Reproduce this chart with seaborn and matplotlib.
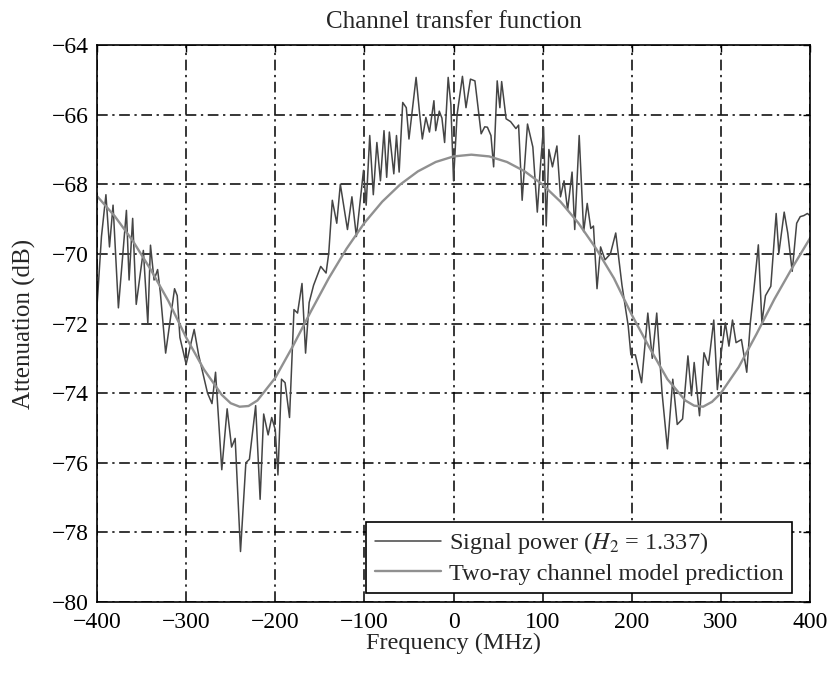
import numpy as np
import pandas as pd
import matplotlib
matplotlib.use("Agg")
import matplotlib.pyplot as plt
import seaborn as sns

# Measured signal power across the band (MHz, dB)
sig_freq = [
    -400, -395, -390, -386, -382, -376, -367, -364, -360, -356, -348, -343,
    -340, -336, -332, -329, -323, -313, -310, -307, -300, -291, -286, -276,
    -271, -267, -260, -254, -249, -245, -239, -233, -229, -222, -217, -213,
    -208, -204, -200, -197, -193, -189, -184, -179, -175, -170, -166, -162,
    -157, -149, -143, -140, -136, -131, -127, -119, -114, -109, -105, -101,
    -98, -94, -90, -86, -82, -78, -75, -72, -67, -64, -61, -57,
    -53, -50, -42, -38, -35, -31, -27, -22, -20, -16, -13, -10,
    -6, -3, 0, 4, 10, 14, 19, 24, 31, 35, 38, 42,
    45, 49, 52, 54, 59, 64, 70, 73, 77, 83, 89, 94,
    98, 101, 104, 107, 111, 116, 120, 124, 128, 133, 136, 141,
    146, 150, 154, 157, 161, 165, 170, 176, 182, 189, 196, 199,
    204, 211, 218, 223, 228, 234, 240, 246, 251, 257, 263, 267,
    270, 276, 281, 286, 292, 296, 300, 305, 309, 313, 317, 323,
    329, 333, 337, 342, 346, 350, 356, 362, 365, 371, 375, 380,
    385, 389, 393, 397, 400,
]
sig_db = [
    -71.50, -69.50, -68.30, -69.80, -68.60, -71.55, -68.75, -70.75, -68.98, -71.45, -69.90, -72.00,
    -69.75, -70.75, -70.45, -71.10, -72.85, -71.00, -71.20, -72.40, -73.17, -72.17, -72.90, -74.00,
    -74.30, -73.40, -76.20, -74.45, -75.55, -75.30, -78.55, -76.00, -75.90, -74.36, -77.05, -74.60,
    -75.20, -74.70, -75.05, -76.35, -73.60, -73.70, -74.70, -71.60, -71.70, -70.85, -72.85, -71.40,
    -70.90, -70.36, -70.55, -69.98, -68.46, -69.12, -68.00, -69.30, -68.36, -69.50, -68.55, -67.60,
    -68.60, -66.60, -68.30, -66.80, -67.90, -66.46, -67.80, -66.50, -67.70, -66.60, -67.65, -65.65,
    -65.80, -66.70, -64.93, -65.98, -66.70, -66.08, -66.50, -65.60, -66.46, -65.90, -66.10, -66.80,
    -64.93, -65.70, -67.90, -66.00, -64.90, -65.80, -64.98, -65.03, -66.55, -66.35, -66.36, -66.60,
    -67.50, -65.03, -65.80, -65.05, -66.12, -66.20, -66.40, -66.30, -68.46, -66.27, -66.93, -68.80,
    -67.30, -66.36, -69.20, -67.00, -67.50, -66.90, -68.36, -67.90, -68.74, -67.65, -69.30, -66.60,
    -69.36, -68.55, -69.27, -69.20, -71.00, -69.80, -70.17, -70.00, -69.40, -70.90, -72.07, -72.90,
    -72.90, -73.70, -71.70, -73.00, -71.70, -74.00, -75.60, -73.60, -74.90, -74.74, -72.93, -74.07,
    -73.12, -74.65, -72.84, -73.20, -71.90, -73.90, -72.90, -71.98, -72.65, -71.90, -72.55, -72.46,
    -73.40, -71.98, -71.03, -69.74, -71.98, -71.20, -70.93, -68.84, -69.98, -68.80, -69.40, -70.50,
    -69.12, -68.93, -68.90, -68.84, -68.90,
]

# Two-ray channel model prediction (MHz, dB)
model_freq = [
    -400, -380, -360, -340, -320, -300, -280, -260, -250, -240, -230, -220,
    -200, -180, -160, -140, -120, -100, -80, -60, -40, -20,
    0, 20, 40, 60, 80, 100, 120, 140, 160, 180,
    200, 220, 240, 260, 270, 280, 290, 300, 320, 340, 360, 380, 400,
]
model_db = [
    -68.34, -68.92, -69.62, -70.44, -71.35, -72.40, -73.32, -74.05, -74.29, -74.39, -74.37, -74.21,
    -73.56, -72.64, -71.65, -70.70, -69.85, -69.11, -68.50, -68.01, -67.63, -67.36,
    -67.20, -67.15, -67.20, -67.36, -67.63, -68.01, -68.50, -69.11, -69.85, -70.70,
    -71.75, -72.70, -73.60, -74.21, -74.36, -74.39, -74.25, -74.00, -73.25, -72.30, -71.30, -70.40,
    -69.55,
]

x_ticks = [-400, -300, -200, -100, 0, 100, 200, 300, 400]
y_ticks = [-80, -78, -76, -74, -72, -70, -68, -66, -64]

sig_label = "Signal power ($H_2$ = 1.337)"
model_label = "Two-ray channel model prediction"

df = pd.concat([
    pd.DataFrame({"freq": sig_freq, "db": sig_db, "series": sig_label}),
    pd.DataFrame({"freq": model_freq, "db": model_db, "series": model_label}),
], ignore_index=True)

sns.set_theme(style="white")
plt.rcParams["font.family"] = ["Liberation Serif", "DejaVu Serif"]
plt.rcParams["mathtext.fontset"] = "stix"
plt.rcParams["axes.unicode_minus"] = True

fig = plt.figure(figsize=(8.32, 6.73), dpi=100)
ax = fig.add_axes([0.1166, 0.1055, 0.8570, 0.8276])

sns.lineplot(
    data=df, x="freq", y="db", hue="series", style="series",
    hue_order=[sig_label, model_label],
    palette={sig_label: "#454545", model_label: "#909090"},
    dashes=False, sort=False, estimator=None, ax=ax,
)
lw = {sig_label: 1.1, model_label: 1.7}
for line, name in zip(ax.get_lines(), [sig_label, model_label]):
    line.set_linewidth(lw[name])

ax.set_xlim(-400, 400)
ax.set_ylim(-80, -64)
ax.set_xticks(x_ticks)
ax.set_yticks(y_ticks)
ax.grid(True, color="black", linestyle=(0, (7, 3, 1.5, 3)), linewidth=1.1)
ax.set_axisbelow(True)
for s in ax.spines.values():
    s.set_color("black")
    s.set_linewidth(1.2)
ax.tick_params(direction="in", length=5, width=1, colors="black",
               labelsize=17, top=True, right=True)
ax.tick_params(axis="x", pad=7)
ax.tick_params(axis="y", pad=6)

ax.set_title("Channel transfer function", fontsize=18, pad=12)
ax.set_xlabel("Frequency (MHz)", fontsize=17.5, labelpad=0)
ax.set_ylabel("Attenuation (dB)", fontsize=18, labelpad=11)

handles, labels = ax.get_legend_handles_labels()
leg = ax.legend(handles, labels, loc="lower right", fontsize=17.5,
                frameon=True, fancybox=False, edgecolor="black",
                framealpha=1, handlelength=2.75, borderpad=0.35,
                labelspacing=0.25, handletextpad=0.3, borderaxespad=0,
                bbox_to_anchor=(0.9745, 0.016))
leg.get_frame().set_linewidth(1.2)
for h, name in zip(leg.get_lines(), [sig_label, model_label]):
    h.set_linewidth(lw[name])

fig.savefig("out.png", dpi=100)
